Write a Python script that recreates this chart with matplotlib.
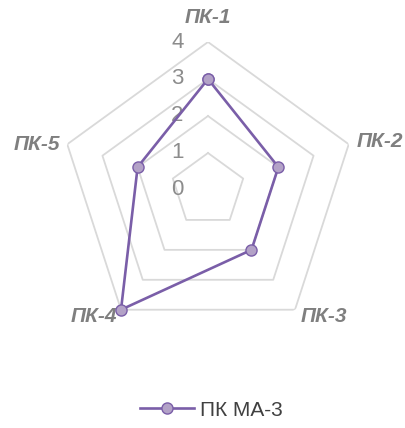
import numpy as np
import matplotlib
matplotlib.use('Agg')
import matplotlib.pyplot as plt

categories = ['ПК-1', 'ПК-2', 'ПК-3', 'ПК-4', 'ПК-5']
values = [3, 2, 2, 4, 2]
levels = [0, 1, 2, 3, 4]
series_name = 'ПК МА-3'

plt.rcParams['font.family'] = ['Liberation Sans', 'DejaVu Sans']

fig = plt.figure(figsize=(4.06, 4.28), dpi=100)
ax = fig.add_axes([0.1478, 0.2103, 0.729, 0.6916], projection='polar')
ax.set_theta_offset(np.pi / 2)
ax.set_theta_direction(-1)
ax.set_ylim(0, 4)
ax.grid(False)
ax.spines['polar'].set_visible(False)
ax.set_xticks([])
ax.set_yticks([])

angles = np.linspace(0, 2 * np.pi, len(categories), endpoint=False)
closed = np.append(angles, angles[0])

# pentagon gridlines
for lv in levels[1:]:
    ax.plot(closed, [lv] * len(closed), color='#d9d9d9', lw=1.3, zorder=1)

# value labels on the vertical axis
for lv in levels:
    ax.annotate(str(lv), xy=(0, lv), xytext=(-22, 0), textcoords='offset points',
                ha='center', va='center', fontsize=16, color='#8c8c8c')

# category labels (offsets in points from the outer vertex)
label_pos = [((0, 18), 'center'), ((6, 2), 'left'), ((4, -5), 'left'),
             ((-3, -5), 'right'), ((-5, 0), 'right')]
for ang, cat, (off, ha) in zip(angles, categories, label_pos):
    ax.annotate(cat, xy=(ang, 4), xytext=off, textcoords='offset points',
                ha=ha, va='center', fontsize=15, fontweight='bold',
                fontstyle='italic', color='#7f7f7f')

vals = values + values[:1]
line, = ax.plot(closed, vals, color='#7a5ea8', lw=1.9, marker='o', markersize=8,
                markerfacecolor='#b3a2c7', markeredgecolor='#7a5ea8',
                markeredgewidth=1.0, zorder=3, clip_on=False, label=series_name)

fig.legend(handles=[line], loc='center', bbox_to_anchor=(0.52, 0.042),
           frameon=False, fontsize=15, handlelength=2.6, handletextpad=0.3,
           labelcolor='#404040')

fig.savefig('out.png', dpi=100)
